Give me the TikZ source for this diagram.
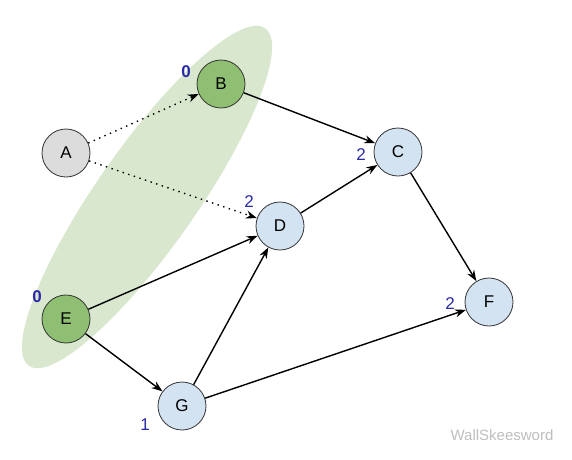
\documentclass[tikz,border=0pt]{standalone}
\usepackage{fontspec}
\setmainfont{Liberation Sans}
\usetikzlibrary{arrows.meta}
\definecolor{blobgreen}{HTML}{D8E7CD}
\definecolor{nodegreen}{HTML}{8FBF72}
\definecolor{nodeblue}{HTML}{D3E3F2}
\definecolor{nodegray}{HTML}{DCDCDC}
\definecolor{lblblue}{HTML}{2A2AA8}
\tikzset{
  vert/.style={circle,draw=black!80,line width=0.8pt,minimum size=48pt,inner sep=0pt,font=\fontsize{17}{19}\selectfont},
  greenv/.style={vert,fill=nodegreen},
  bluev/.style={vert,fill=nodeblue},
  grayv/.style={vert,fill=nodegray},
  edge/.style={line width=1.4pt,-{Stealth[length=11pt,width=8pt]}},
  dotedge/.style={line width=1.4pt,dash pattern=on 1.4pt off 4.5pt,-{Stealth[length=11pt,width=8pt]}},
  lbl/.style={text=lblblue,font=\fontsize{17}{19}\selectfont},
}
\begin{document}
\begin{tikzpicture}[x=1pt,y=-1pt]
\useasboundingbox (0,0) rectangle (572,459);
\fill[white] (0,0) rectangle (572,459);
\fill[blobgreen] (147,197) ellipse[x radius=206, y radius=50, rotate=55];
\node[grayv] (A) at (66,153) {A};
\node[greenv] (B) at (221,84) {B};
\node[bluev] (C) at (398,152) {C};
\node[bluev] (D) at (280,226) {D};
\node[greenv] (E) at (66,319) {E};
\node[bluev] (F) at (489,302) {F};
\node[bluev] (G) at (182,406) {G};
\draw[dotedge] (A) -- (B);
\draw[dotedge] (A) -- (D);
\draw[edge] (B) -- (C);
\draw[edge] (D) -- (C);
\draw[edge] (E) -- (D);
\draw[edge] (E) -- (G);
\draw[edge] (G) -- (D);
\draw[edge] (G) -- (F);
\draw[edge] (C) -- (F);
\node[lbl,font=\bfseries\fontsize{17}{19}\selectfont] (lb) at (186,72) {0};
\node[lbl] (lc) at (361,155) {2};
\node[lbl] (ld) at (249,202) {2};
\node[lbl,font=\bfseries\fontsize{17}{19}\selectfont] (le) at (37,297) {0};
\node[lbl] (lf) at (450,304) {2};
\node[lbl] (lg) at (145,425) {1};
\node[text=black!25,font=\fontsize{15}{17}\selectfont] (wm) at (502,435) {WallSkeesword};
\end{tikzpicture}
\end{document}
